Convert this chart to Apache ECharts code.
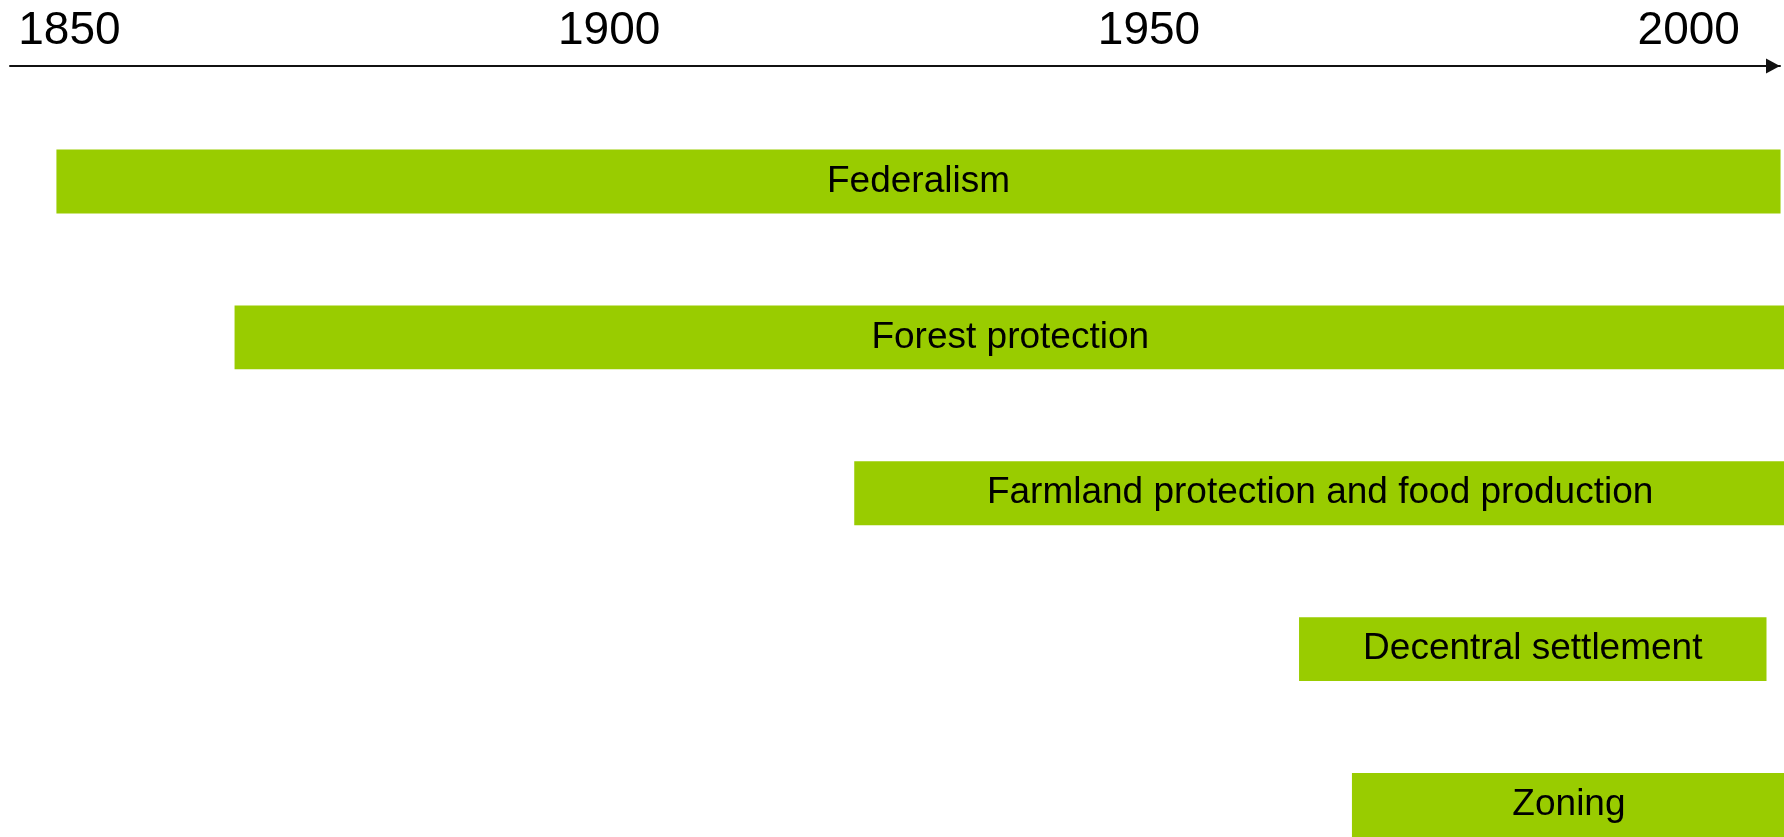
<!DOCTYPE html>
<html>
<head>
<meta charset="utf-8">
<script src="https://cdn.jsdelivr.net/npm/echarts@6/dist/echarts.min.js"></script>
<style>
  html, body { margin: 0; padding: 0; background: #fff; }
  #chart { width: 1784px; height: 837px; }
</style>
</head>
<body>
<div id="chart"></div>
<script>
// timeline rows, top to bottom
var topics = ['Federalism', 'Forest protection', 'Farmland protection and food production', 'Decentral settlement', 'Zoning'];
var startYears = [1848.8, 1865.3, 1922.7, 1963.9, 1968.8];
var endYears = [2008.5, 2009, 2009, 2007.2, 2009];
var yearTicks = [1850, 1900, 1950, 2000];

var myChart = echarts.init(document.getElementById('chart'));

var rows = topics.map(function (name, i) {
    return [i, startYears[i], endYears[i], name];
});

var option = {
    animation: false,
    grid: {
        left: 10,
        right: 4,
        top: 103.5,
        height: 779.5,
        outerBoundsMode: 'none'
    },
    xAxis: {
        type: 'value',
        position: 'top',
        offset: 37.5,
        min: 1844.5,
        max: 2008.45,
        axisLine: {
            show: true,
            symbol: ['none', 'triangle'],
            symbolSize: [15, 14],
            symbolOffset: [0, -7],
            lineStyle: { color: '#111', width: 2 }
        },
        axisTick: { show: false },
        splitLine: { show: false },
        axisLabel: {
            customValues: yearTicks,
            formatter: function (v) { return String(v); },
            fontFamily: 'Liberation Sans',
            fontSize: 46,
            color: '#000',
            margin: 12
        }
    },
    yAxis: {
        type: 'category',
        inverse: true,
        data: topics,
        show: false
    },
    series: [{
        type: 'custom',
        encode: { x: [1, 2], y: 0 },
        data: rows,
        renderItem: function (params, api) {
            var row = api.value(0);
            var start = api.coord([api.value(1), row]);
            var end = api.coord([api.value(2), row]);
            var h = api.size([0, 1])[1] * 0.41;
            return {
                type: 'rect',
                shape: {
                    x: start[0],
                    y: start[1] - h / 2,
                    width: end[0] - start[0],
                    height: h
                },
                style: { fill: '#99CC00' },
                textContent: {
                    style: {
                        text: topics[row],
                        fill: '#000',
                        fontFamily: 'Liberation Sans',
                        fontSize: 37
                    }
                },
                textConfig: { position: 'inside' }
            };
        }
    }]
};

myChart.setOption(option);
</script>
</body>
</html>
